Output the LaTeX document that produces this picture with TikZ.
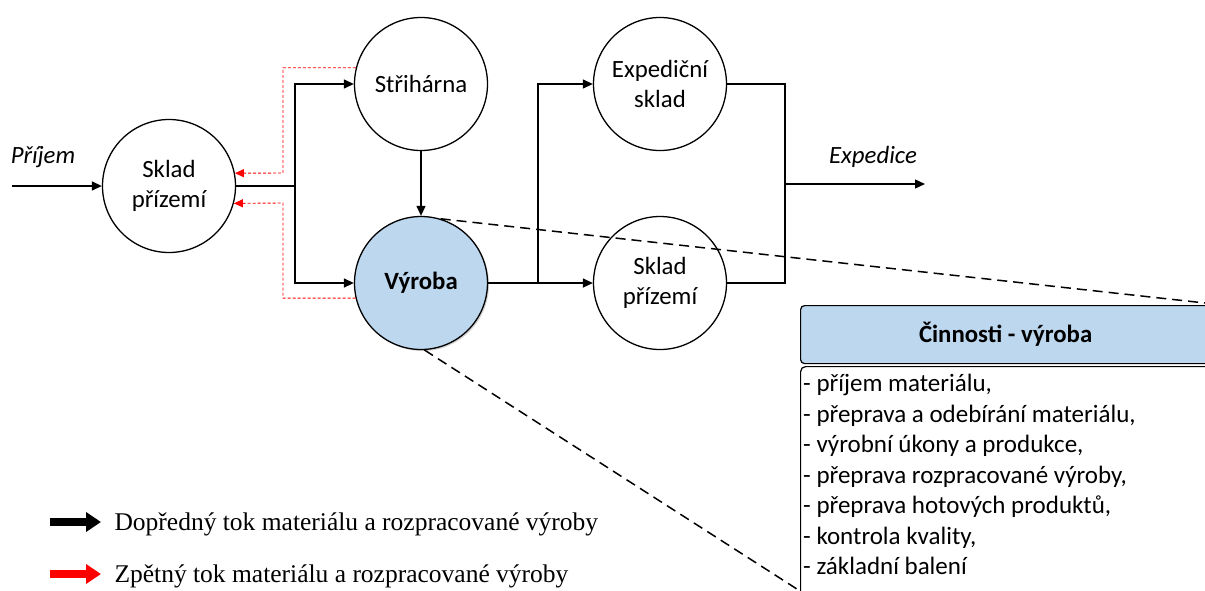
\documentclass[tikz,border=0pt]{standalone}
\usepackage{fontspec}
\setmainfont{Carlito}
\newfontfamily\legendfont{Liberation Serif}
\usetikzlibrary{arrows.meta,shadows}
\definecolor{procblue}{RGB}{189,215,238}
\definecolor{backred}{RGB}{255,0,0}

\begin{document}
\begin{tikzpicture}[x=1pt,y=-1pt,
  station/.style={circle, draw, line width=1.3pt, minimum size=133pt, inner sep=0pt,
    align=center, fill=white, font=\fontsize{24.8}{30}\selectfont},
  flow/.style={line width=1.3pt, -{Triangle[length=10pt,width=9pt]}},
  flowline/.style={line width=1.3pt},
  backflow/.style={backred, line width=0.9pt, densely dashed, -{Triangle[length=9pt,width=8pt]}},
  zoomline/.style={line width=1.5pt, dash pattern=on 10pt off 6pt},
  flowlabel/.style={font=\itshape\fontsize{24.8}{30}\selectfont},
  legendtext/.style={anchor=west, font=\legendfont\fontsize{25.5}{30}\selectfont},
  legendarrow/.style={line width=8pt, -{Triangle[length=15pt,width=19pt]}},
]
\clip (0,0) rectangle (1205,590);
\fill[white] (0,0) rectangle (1205,590);

% stations
\node[station] (skl) at (169,186) {Sklad\\přízemí};
\node[station] (str) at (421,84) {Střihárna};
\node[station, fill=procblue, font=\bfseries\fontsize{24.8}{30}\selectfont,
      drop shadow={opacity=0.35, shadow xshift=1.5pt, shadow yshift=-1.5pt}] (vyr) at (421,283) {Výroba};
\node[station] (exp) at (660,84) {Expediční\\sklad};
\node[station] (skr) at (660,283) {Sklad\\přízemí};

% forward flow
\coordinate (in) at (12,186);
\coordinate (j1) at (295,186);
\coordinate (j2) at (538,283);
\coordinate (j3) at (785,184);
\coordinate (out) at (925,184);
\draw[flow] (in) -- (skl.west);
\draw[flowline] (skl.east) -- (j1);
\draw[flow] (j1) |- (str.west);
\draw[flow] (j1) |- (vyr.west);
\draw[flow] (str.south) -- (vyr.north);
\draw[flowline] (vyr.east) -- (j2);
\draw[flow] (j2) |- (exp.west);
\draw[flow] (j2) -- (skr.west);
\draw[flowline] (exp.east) -| (j3);
\draw[flowline] (skr.east) -| (j3);
\draw[flow] (j3) -- (out);

\node[flowlabel] (lin) at (43,157) {Příjem};
\node[flowlabel] (lout) at (873,157) {Expedice};

% backward flow
\coordinate (r1) at (283,173);
\coordinate (r2) at (283,203);
\draw[backflow] (str.166) -| (r1) -- (skl.11);
\draw[backflow] (vyr.193) -| (r2) -- (skl.-15);

% detail of the production activities
\coordinate (z1) at (1205,303);
\coordinate (z2) at (800,591);
\draw[zoomline] (vyr.73) -- (z1);
\draw[zoomline] (vyr.-87) -- (z2);

\node[draw, fill=procblue, rounded corners=4pt, line width=1.2pt, anchor=north west,
      minimum width=410pt, minimum height=58pt,
      font=\bfseries\fontsize{24.8}{30}\selectfont] (hdr) at (800,305) {Činnosti - výroba};
\node[draw, fill=white, rounded corners=5pt, line width=1.2pt, anchor=north west,
      minimum width=420pt, minimum height=240pt] (body) at (800,366) {};
\node[anchor=north west, align=left, inner sep=0pt,
      font=\fontsize{25}{30.5}\selectfont] (list) at (803,374)
  {- příjem materiálu,\\
   - přeprava a odebírání materiálu,\\
   - výrobní úkony a produkce,\\
   - přeprava rozpracované výroby,\\
   - přeprava hotových produktů,\\
   - kontrola kvality,\\
   - základní balení};

% legend
\coordinate (la1) at (50,522);
\coordinate (la2) at (101,522);
\coordinate (lb1) at (50,574);
\coordinate (lb2) at (101,574);
\draw[legendarrow, black] (la1) -- (la2);
\draw[legendarrow, backred] (lb1) -- (lb2);
\node[legendtext] (lta) at (111,524) {Dopředný tok materiálu a rozpracované výroby};
\node[legendtext] (ltb) at (111,576) {Zpětný tok materiálu a rozpracované výroby};
\end{tikzpicture}
\end{document}
